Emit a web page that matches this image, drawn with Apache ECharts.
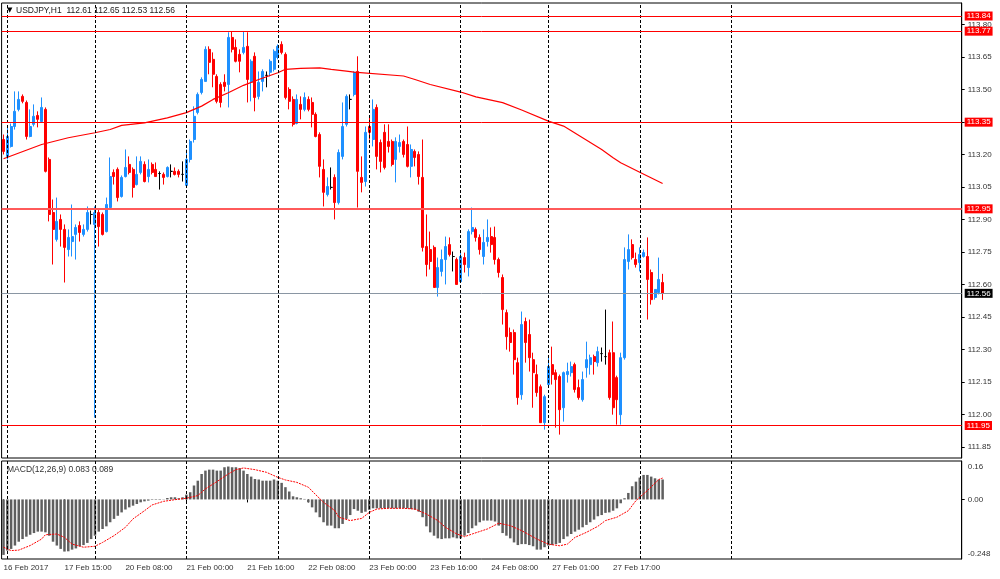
<!DOCTYPE html>
<html><head><meta charset="utf-8">
<script src="https://cdn.jsdelivr.net/npm/echarts@6/dist/echarts.min.js"></script>
<style>html,body{margin:0;padding:0;background:#fff}#c{width:1000px;height:579px}</style>
</head><body><div id="c"></div>
<script>
// ---- time axis (H1 bars; weekend gap skipped) ----
const dayBlocks = [['16 Feb',23,23],['17 Feb',0,22],['20 Feb',0,23],['21 Feb',0,23],['22 Feb',0,23],['23 Feb',0,23],['24 Feb',0,22],['27 Feb',0,23],['28 Feb',0,23],['1 Mar',0,23],['2 Mar',0,23],['3 Mar',0,12]];
const xLabelCats = ['16 Feb 23:00','17 Feb 15:00','20 Feb 08:00','21 Feb 00:00','21 Feb 16:00','22 Feb 08:00','23 Feb 00:00','23 Feb 16:00','24 Feb 08:00','27 Feb 01:00','27 Feb 17:00'];
const xLabelText = ['16 Feb 2017','17 Feb 15:00','20 Feb 08:00','21 Feb 00:00','21 Feb 16:00','22 Feb 08:00','23 Feb 00:00','23 Feb 16:00','24 Feb 08:00','27 Feb 01:00','27 Feb 17:00'];
const gridCats = ['17 Feb 00:00','20 Feb 00:00','21 Feb 00:00','22 Feb 00:00','23 Feb 00:00','24 Feb 00:00','27 Feb 00:00','28 Feb 00:00','1 Mar 00:00'];
const priceTicks = [111.85,112.00,112.15,112.30,112.45,112.60,112.75,112.90,113.05,113.20,113.35,113.50,113.65,113.80];
const macdTicks = [0.16,0,-0.248];
const redLevels = [113.84,113.77,113.35,112.95,111.95];
const bidLevel = 112.56;

// ---- OHLC ----
const opens = [113.270,113.192,113.238,113.330,113.409,113.469,113.441,113.284,113.340,113.381,
113.353,113.409,113.178,112.933,112.809,112.901,112.855,112.762,112.799,112.832,
112.873,112.832,112.855,112.924,112.878,112.933,112.924,112.845,112.956,113.118,
113.132,113.007,113.099,113.155,113.132,113.062,113.118,113.155,113.099,113.155,
113.132,113.113,113.109,113.099,113.123,113.123,113.123,113.109,113.058,113.178,
113.270,113.395,113.487,113.538,113.686,113.640,113.561,113.524,113.534,113.524,
113.741,113.695,113.663,113.672,113.700,113.534,113.654,113.469,113.538,113.566,
113.580,113.594,113.649,113.709,113.663,113.501,113.455,113.344,113.432,113.409,
113.455,113.441,113.386,113.293,113.132,113.016,113.049,113.095,112.979,113.192,
113.340,113.455,113.478,113.584,113.095,113.076,113.330,113.270,113.418,113.256,
113.303,113.261,113.261,113.178,113.238,113.261,113.247,113.146,113.215,113.201,
113.095,112.776,112.762,112.772,112.587,112.661,112.716,112.785,112.730,112.716,
112.614,112.725,112.679,112.845,112.855,112.818,112.730,112.799,112.822,112.818,
112.716,112.633,112.471,112.379,112.379,112.240,112.092,112.430,112.370,112.254,
112.185,112.129,111.963,112.139,112.231,112.194,112.176,112.032,112.185,112.194,
112.231,112.125,112.069,112.217,112.231,112.268,112.240,112.282,112.268,112.286,
112.286,112.171,112.000,112.263,112.707,112.785,112.716,112.702,112.730,112.730,
112.656,112.541,112.564,112.610];
const highs = [113.293,113.326,113.344,113.492,113.492,113.478,113.450,113.409,113.432,113.400,
113.464,113.418,113.187,112.993,113.002,112.924,112.878,112.855,112.970,112.878,
112.892,112.878,112.961,112.942,112.961,112.947,112.933,113.002,113.187,113.132,
113.141,113.104,113.224,113.192,113.141,113.192,113.192,113.169,113.178,113.164,
113.164,113.123,113.118,113.146,113.155,113.141,113.132,113.169,113.224,113.270,
113.423,113.487,113.557,113.700,113.700,113.672,113.571,113.534,113.571,113.765,
113.769,113.732,113.686,113.769,113.765,113.640,113.672,113.584,113.594,113.584,
113.640,113.686,113.709,113.723,113.672,113.511,113.469,113.478,113.469,113.487,
113.469,113.464,113.395,113.303,113.178,113.095,113.141,113.109,113.224,113.441,
113.478,113.478,113.584,113.654,113.192,113.330,113.377,113.455,113.432,113.270,
113.340,113.340,113.270,113.280,113.293,113.270,113.330,113.247,113.224,113.215,
113.270,112.924,112.845,112.781,112.725,112.762,112.822,112.818,112.753,112.725,
112.748,112.748,112.855,112.956,112.864,112.832,112.855,112.901,112.864,112.868,
112.725,112.647,112.485,112.402,112.393,112.263,112.476,112.448,112.439,112.286,
112.231,112.139,112.092,112.268,112.314,112.208,112.185,112.199,112.240,112.245,
112.240,112.162,112.199,112.337,112.277,112.277,112.314,112.310,112.485,112.300,
112.430,112.180,112.286,112.772,112.832,112.809,112.748,112.772,112.762,112.818,
112.670,112.578,112.725,112.650];
const lows = [113.201,113.178,113.233,113.316,113.400,113.437,113.270,113.280,113.330,113.326,
113.349,113.118,112.892,112.693,112.799,112.776,112.610,112.730,112.730,112.716,
112.799,112.822,112.845,112.878,111.986,112.776,112.827,112.841,112.947,113.062,
112.984,113.002,113.095,113.109,113.002,113.058,113.109,113.072,113.072,113.109,
113.099,113.039,113.062,113.095,113.095,113.104,113.095,113.076,113.053,113.164,
113.256,113.386,113.478,113.538,113.571,113.511,113.437,113.418,113.492,113.418,
113.672,113.626,113.580,113.663,113.441,113.446,113.400,113.455,113.492,113.511,
113.561,113.584,113.640,113.663,113.455,113.409,113.330,113.340,113.363,113.400,
113.400,113.326,113.280,113.095,112.961,113.007,113.039,112.901,112.970,113.178,
113.330,113.409,113.469,112.956,113.026,113.053,113.270,113.238,113.132,113.118,
113.132,113.210,113.146,113.072,113.210,113.187,113.141,113.095,113.146,113.062,
112.753,112.638,112.670,112.587,112.545,112.638,112.601,112.730,112.661,112.601,
112.610,112.656,112.638,112.832,112.799,112.739,112.693,112.776,112.748,112.693,
112.633,112.416,112.300,112.291,112.185,112.046,112.069,112.240,112.199,112.032,
112.083,111.963,111.931,112.129,112.139,111.940,111.908,111.968,112.148,112.176,
112.102,112.069,112.060,112.171,112.185,112.185,112.222,112.245,112.231,112.069,
112.000,111.954,111.954,112.254,112.670,112.716,112.679,112.661,112.725,112.439,
112.508,112.531,112.555,112.530];
const closes = [113.215,113.284,113.330,113.400,113.455,113.446,113.284,113.330,113.377,113.363,
113.418,113.123,112.924,112.855,112.892,112.855,112.772,112.818,112.822,112.864,
112.841,112.855,112.933,112.924,112.933,112.868,112.832,112.970,113.099,113.099,
113.002,113.095,113.141,113.118,113.049,113.109,113.169,113.076,113.132,113.118,
113.099,113.113,113.095,113.141,113.123,113.109,113.109,113.109,113.178,113.261,
113.377,113.478,113.547,113.686,113.626,113.571,113.446,113.441,113.515,113.741,
113.686,113.631,113.631,113.695,113.547,113.631,113.464,113.534,113.584,113.566,
113.631,113.677,113.700,113.672,113.464,113.446,113.340,113.455,113.409,113.464,
113.409,113.386,113.284,113.146,113.026,113.053,113.049,112.979,113.210,113.330,
113.469,113.455,113.580,113.123,113.072,113.303,113.303,113.409,113.192,113.169,
113.141,113.238,113.155,113.261,113.256,113.201,113.146,113.224,113.187,113.099,
112.772,112.693,112.707,112.587,112.679,112.716,112.776,112.739,112.730,112.601,
112.730,112.693,112.845,112.864,112.818,112.762,112.795,112.818,112.785,112.716,
112.656,112.485,112.360,112.333,112.254,112.079,112.416,112.333,112.263,112.194,
112.102,111.963,112.083,112.222,112.185,112.162,112.023,112.194,112.199,112.222,
112.116,112.079,112.162,112.254,112.263,112.245,112.291,112.282,112.268,112.079,
112.032,112.069,112.263,112.716,112.762,112.725,112.693,112.739,112.748,112.624,
112.531,112.578,112.624,112.560];

// ---- moving average (read at bar indices) ----
const maIdx = [0,10,17,24,28,31,37,43,48,52,55,59,63,67,72,74,78,83,86,90,92,105,108,112,120,124,131,136,143,147,152,157,160,162,167,173];
const maVal = [113.181,113.247,113.278,113.301,113.316,113.335,113.347,113.370,113.394,113.424,113.455,113.486,113.520,113.547,113.578,113.594,113.598,113.601,113.594,113.586,113.581,113.563,113.547,113.524,113.489,113.467,113.440,113.406,113.355,113.332,113.278,113.224,113.186,113.163,113.119,113.067];

// ---- MACD histogram (per bar) ----
const macdHist = [-0.231,-0.213,-0.206,-0.192,-0.176,-0.165,-0.155,-0.147,-0.140,-0.134,
-0.134,-0.137,-0.151,-0.176,-0.192,-0.206,-0.217,-0.216,-0.209,-0.204,
-0.195,-0.190,-0.181,-0.165,-0.151,-0.134,-0.123,-0.112,-0.095,-0.081,
-0.068,-0.054,-0.042,-0.033,-0.026,-0.019,-0.012,-0.008,-0.005,-0.002,
-0.002,-0.002,-0.001,0.006,0.009,0.009,0.005,0.009,0.020,0.030,
0.058,0.078,0.106,0.120,0.124,0.124,0.120,0.120,0.134,0.137,
0.134,0.134,0.130,0.120,0.106,0.095,0.085,0.083,0.078,0.078,
0.078,0.083,0.078,0.069,0.051,0.033,0.013,0.009,0.005,0.002,
-0.012,-0.033,-0.054,-0.074,-0.095,-0.109,-0.109,-0.120,-0.120,-0.102,
-0.081,-0.065,-0.040,-0.047,-0.056,-0.051,-0.043,-0.037,-0.037,-0.037,
-0.037,-0.037,-0.037,-0.037,-0.037,-0.037,-0.037,-0.040,-0.043,-0.051,
-0.074,-0.112,-0.137,-0.151,-0.162,-0.165,-0.162,-0.162,-0.158,-0.162,
-0.162,-0.151,-0.140,-0.120,-0.109,-0.095,-0.088,-0.088,-0.088,-0.092,
-0.109,-0.140,-0.151,-0.162,-0.179,-0.190,-0.186,-0.186,-0.190,-0.195,
-0.209,-0.209,-0.199,-0.192,-0.190,-0.186,-0.181,-0.165,-0.154,-0.144,
-0.134,-0.126,-0.116,-0.106,-0.095,-0.084,-0.070,-0.065,-0.056,-0.054,
-0.047,-0.037,-0.016,0.005,0.027,0.055,0.074,0.091,0.102,0.102,
0.095,0.088,0.083,0.083];
// ---- MACD signal (read at bar indices) ----
const sigIdx = [0,2,4,7,10,11,14,16,18,21,24,26,29,32,34,37,39,42,45,48,51,53,56,59,61,63,66,69,72,74,77,80,82,84,87,88,91,94,96,98,101,105,108,111,114,116,119,121,123,127,130,133,136,140,143,146,148,150,153,156,158,161,164,166,169,172,173];
const sigVal = [-0.199,-0.213,-0.211,-0.192,-0.165,-0.147,-0.144,-0.158,-0.186,-0.199,-0.195,-0.179,-0.151,-0.116,-0.081,-0.047,-0.023,-0.008,-0.001,0.005,0.016,0.044,0.074,0.106,0.124,0.131,0.124,0.113,0.092,0.081,0.071,0.051,0.019,-0.012,-0.047,-0.074,-0.088,-0.079,-0.054,-0.040,-0.037,-0.037,-0.040,-0.061,-0.088,-0.116,-0.144,-0.155,-0.144,-0.123,-0.099,-0.109,-0.130,-0.165,-0.186,-0.193,-0.186,-0.158,-0.137,-0.112,-0.088,-0.074,-0.047,-0.005,0.037,0.083,0.089];

// ---- build ----
const cats = [];
dayBlocks.forEach(([d,h0,h1]) => { for (let h = h0; h <= h1; h++) cats.push(d + ' ' + (h < 10 ? '0' + h : h) + ':00'); });
const labelMap = {}; xLabelCats.forEach((c, i) => labelMap[c] = xLabelText[i]);
const F = '"Liberation Sans", Arial, sans-serif';
const BLUE = '#1e90ff', RED = '#ff0000';
const candles = opens.map((o, i) => {
  const item = { value: [o, closes[i], lows[i], highs[i]] };
  if (o === closes[i]) item.itemStyle = { color: '#000', color0: '#000', borderColor: '#000', borderColor0: '#000' };
  return item;
});
const vLines = gridCats.map(c => ({ xAxis: c }));
const vLineStyle = { color: '#000', width: 1, type: [3, 2] };
const levelLines = redLevels.map(v => ({
  yAxis: v,
  lineStyle: { color: v === 112.95 ? '#ff5a5a' : RED, width: v === 112.95 ? 2 : 1, type: 'solid' },
  label: { show: true, position: 'end', distance: 3, formatter: () => v.toFixed(2), backgroundColor: RED, color: '#fff', fontSize: 8, fontFamily: F, padding: [1, 2, 0, 2] }
}));
levelLines.push({
  yAxis: bidLevel,
  lineStyle: { color: '#8a96a3', width: 1, type: 'solid' },
  label: { show: true, position: 'end', distance: 3, formatter: () => bidLevel.toFixed(2), backgroundColor: '#000', color: '#fff', fontSize: 8, fontFamily: F, padding: [1, 2, 0, 2] }
});

const chart = echarts.init(document.getElementById('c'), null, { renderer: 'canvas' });
chart.setOption({
  animation: false,
  backgroundColor: '#fff',
  title: [
    { text: 'USDJPY,H1  112.61 112.65 112.53 112.56', left: 16, top: 6, padding: 0, textStyle: { fontSize: 8.5, fontWeight: 'normal', color: '#222', fontFamily: F } },
    { text: '▼', left: 7, top: 7, padding: 0, textStyle: { fontSize: 7, fontWeight: 'normal', color: '#000', fontFamily: '"DejaVu Sans", sans-serif' } },
    { text: 'MACD(12,26,9) 0.083 0.089', left: 7, top: 465, padding: 0, textStyle: { fontSize: 8.5, fontWeight: 'normal', color: '#333', fontFamily: F } }
  ],
  grid: [
    { left: 1.6, top: 3, width: 960.1, height: 455, show: true, borderColor: '#000', borderWidth: 1 },
    { left: 1.6, top: 461, width: 960.1, height: 98, show: true, borderColor: '#000', borderWidth: 1 }
  ],
  xAxis: [
    { type: 'category', gridIndex: 0, data: cats, boundaryGap: true, axisLine: { show: false }, axisTick: { show: false }, axisLabel: { show: false }, splitLine: { show: false } },
    { type: 'category', gridIndex: 1, data: cats, boundaryGap: true, axisLine: { show: false },
      axisTick: { show: true, alignWithLabel: true, length: 3, interval: (i, v) => v in labelMap, lineStyle: { color: '#000' } },
      axisLabel: { interval: (i, v) => v in labelMap, formatter: v => labelMap[v] || '', align: 'left', fontSize: 8, color: '#333', margin: 5, fontFamily: F },
      splitLine: { show: false } }
  ],
  yAxis: [
    { type: 'value', gridIndex: 0, position: 'right', min: 111.8, max: 113.9,
      axisLine: { show: true, lineStyle: { color: '#000' } },
      axisTick: { show: true, customValues: priceTicks, length: 3, lineStyle: { color: '#000' } },
      axisLabel: { customValues: priceTicks, formatter: v => v.toFixed(2), fontSize: 8, color: '#333', margin: 6, fontFamily: F },
      splitLine: { show: false } },
    { type: 'value', gridIndex: 1, position: 'right', min: -0.248, max: 0.16,
      axisLine: { show: true, lineStyle: { color: '#000' } },
      axisTick: { show: true, customValues: [0], length: 3, lineStyle: { color: '#000' } },
      axisLabel: { customValues: macdTicks, fontSize: 8, color: '#333', margin: 6, fontFamily: F,
        formatter: v => v === 0 ? '0.00' : (v > 0 ? '{t|' + v.toFixed(2) + '}' : '{b|' + v.toFixed(3) + '}'),
        rich: { t: { padding: [12, 0, 0, 0], fontSize: 8, color: '#333', fontFamily: F }, b: { padding: [0, 0, 10, 0], fontSize: 8, color: '#333', fontFamily: F } } },
      splitLine: { show: false } }
  ],
  series: [
    { type: 'candlestick', xAxisIndex: 0, yAxisIndex: 0, data: candles, barWidth: 2.5, z: 3,
      itemStyle: { color: BLUE, color0: RED, borderColor: BLUE, borderColor0: RED, borderWidth: 1 },
      markLine: { silent: true, symbol: ['none', 'none'], animation: false,
        data: vLines.map(d => Object.assign({ lineStyle: vLineStyle, label: { show: false } }, d)).concat(levelLines) } },
    { type: 'line', xAxisIndex: 0, yAxisIndex: 0, data: maIdx.map((i, k) => [i, maVal[k]]), showSymbol: false, z: 4,
      lineStyle: { color: RED, width: 1.2 } },
    { type: 'bar', xAxisIndex: 1, yAxisIndex: 1, data: macdHist, barWidth: 2.5, z: 2,
      itemStyle: { color: '#5f5f5f' },
      markLine: { silent: true, symbol: ['none', 'none'], animation: false,
        data: vLines.map(d => Object.assign({ lineStyle: vLineStyle, label: { show: false } }, d)) } },
    { type: 'line', xAxisIndex: 1, yAxisIndex: 1, data: sigIdx.map((i, k) => [i, sigVal[k]]), showSymbol: false, z: 4,
      lineStyle: { color: RED, width: 1, type: [2, 1] } }
  ]
});
</script></body></html>
